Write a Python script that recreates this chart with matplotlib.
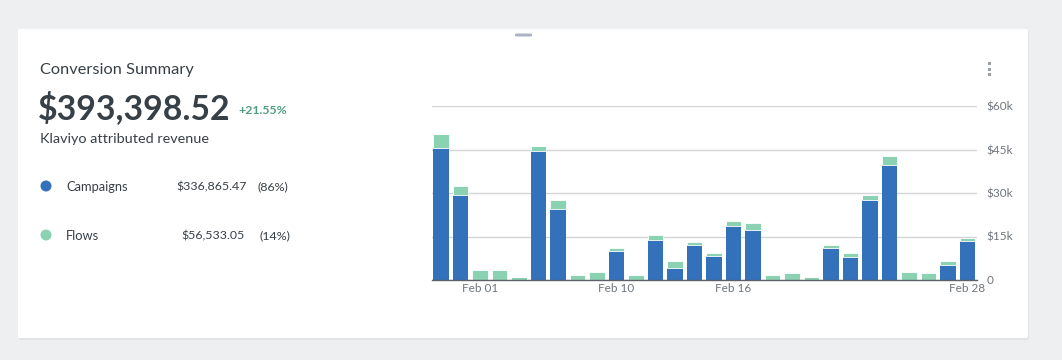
import matplotlib
matplotlib.use('Agg')
import matplotlib.pyplot as plt
from matplotlib.patches import FancyBboxPatch, Ellipse
import numpy as np

plt.rcParams['font.family'] = ['Lato', 'DejaVu Sans']

## data (k$ per day, Feb 01 - Feb 28)
days = [f'Feb {d:02d}' for d in range(1, 29)]
campaigns = [45.5, 29.4, 0.0, 0.0, 0.0, 44.6, 24.6, 0.0, 0.0, 10.1,
             0.0, 13.9, 4.3, 12.2, 8.3, 18.7, 17.4, 0.0, 0.0, 0.0,
             11.1, 8.0, 27.6, 39.8, 0.0, 0.0, 5.2, 13.6]
flows = [4.8, 3.0, 3.4, 3.4, 1.0, 1.5, 3.0, 1.7, 2.8, 0.9,
         1.6, 1.5, 2.1, 1.0, 0.9, 1.8, 2.1, 1.6, 2.3, 1.1,
         1.0, 1.3, 1.7, 2.8, 2.6, 2.3, 1.5, 0.9]
y_ticks = [0, 15, 30, 45, 60]
y_tick_labels = ['0', '$15k', '$30k', '$45k', '$60k']
x_tick_pos = [2, 9, 15, 27]
x_tick_labels = ['Feb 01', 'Feb 10', 'Feb 16', 'Feb 28']

total = '$393,398.52'
change = '+21.55%'
series = [('Campaigns', '$336,865.47', '(86%)'), ('Flows', '$56,533.05', '(14%)')]

## colors
c_blue = '#3372ba'
c_green = '#8bd2b3'
c_text = '#373f47'
c_gray = '#6f757c'

W, H = 1062, 360
def px(x, y):
    return x / W, 1 - y / H

fig = plt.figure(figsize=(W / 100, H / 100), dpi=100, facecolor='#eeeff1')

## card
shadow = FancyBboxPatch(px(19, 340), 1010 / W, 310 / H, boxstyle='round,pad=0,rounding_size=0.003',
                        transform=fig.transFigure, fc='#e2e3e6', ec='none', zorder=-2)
card = FancyBboxPatch(px(18, 338), 1010 / W, 309 / H, boxstyle='round,pad=0,rounding_size=0.003',
                      transform=fig.transFigure, fc='white', ec='none', zorder=-1)
fig.patches.extend([shadow, card])

## drag handle
handle = FancyBboxPatch(px(515, 36.5), 17 / W, 3 / H, boxstyle='round,pad=0,rounding_size=0.002',
                        transform=fig.transFigure, fc='#aab4c3', ec='none')
fig.patches.append(handle)

## menu dots
for yy in (63.5, 69, 74.5):
    fig.patches.append(FancyBboxPatch(px(988, yy + 1.5), 3 / W, 3 / H, boxstyle='square,pad=0',
                                      transform=fig.transFigure, fc='#9a9fa5', ec='none'))

## left texts
fig.text(*px(40, 70), 'Conversion Summary', fontsize=11.8, color=c_text, va='center', ha='left')
fig.text(*px(38, 108), total, fontsize=24.3, fontweight='bold', color=c_text, va='center', ha='left')
fig.text(*px(238, 110), change, fontsize=8.8, fontweight='bold', color='#4f9f7e', va='center', ha='left')
fig.text(*px(40, 139), 'Klaviyo attributed revenue', fontsize=10.4, color=c_text, va='center', ha='left')

val_right = [247, 245]
pct_left = [258, 260]
for i, (nam, val, pct) in enumerate(series):
    yy = 186 + i * 49
    col = c_blue if i == 0 else c_green
    fig.patches.append(Ellipse(px(46, yy), 11 / W, 11 / H, transform=fig.transFigure, fc=col, ec='none'))
    fig.text(*px(66, yy + 0.5), nam, fontsize=9.3, color=c_text, va='center', ha='left')
    fig.text(*px(val_right[i], yy + 0.5), val, fontsize=8.9, color=c_text, va='center', ha='right')
    fig.text(*px(pct_left[i], yy + 0.5), pct, fontsize=8.9, color=c_text, va='center', ha='left')

## chart
ax = fig.add_axes([432 / W, 80 / H, 545 / W, 174 / H], zorder=1)
ax.set_facecolor('none')
x = np.arange(len(days))
camp = np.array(campaigns)
flw = np.array(flows)
ax.bar(x[camp > 0], camp[camp > 0], width=0.79, color=c_blue, lw=0, zorder=3)
ax.bar(x, flw, bottom=camp, width=0.79, color=c_green, edgecolor='white', lw=0.6, zorder=3)

ax.set_xlim(-0.47, 27.49)
ax.set_ylim(0, 60)
ax.set_yticks(y_ticks)
ax.set_yticklabels(y_tick_labels)
ax.set_xticks(x_tick_pos)
ax.set_xticklabels(x_tick_labels)
ax.yaxis.tick_right()
ax.grid(axis='y', color='#d3d5d8', lw=1, zorder=0)
ax.tick_params(axis='y', length=0, pad=7, labelsize=8.5, labelcolor=c_gray)
ax.tick_params(axis='x', length=0, pad=2, labelsize=8.5, labelcolor=c_gray)
for s in ('top', 'right', 'left'):
    ax.spines[s].set_visible(False)
ax.spines['bottom'].set_color('#5d6167')
ax.spines['bottom'].set_linewidth(1)
ax.spines['bottom'].set_zorder(4)

fig.savefig('out.png', dpi=100, facecolor=fig.get_facecolor())
